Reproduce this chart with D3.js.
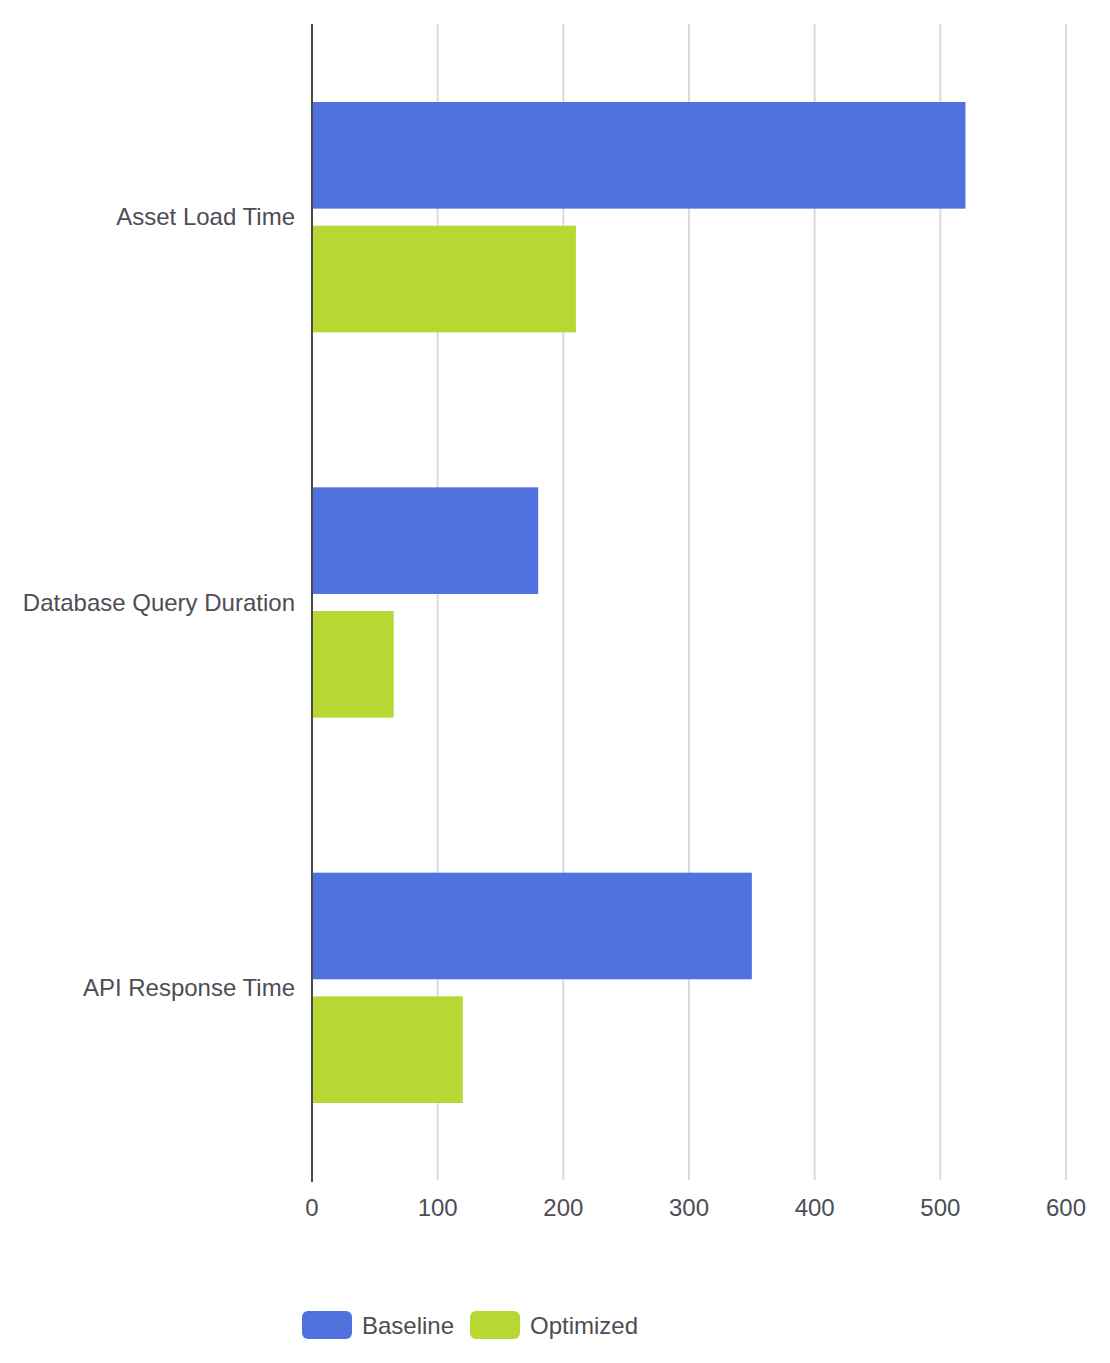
<!DOCTYPE html>
<html>
<head>
<meta charset="utf-8">
<script src="https://cdn.jsdelivr.net/npm/d3@7"></script>
<style>
  body { margin: 0; background: #fff; }
  text { font-family: "Liberation Sans", Arial, sans-serif; fill: #4d4d55; }
</style>
</head>
<body>
<div id="wrapper"></div>
<script>
// data
const categories = ["Asset Load Time", "Database Query Duration", "API Response Time"];
const seriesNames = ["Baseline", "Optimized"];
const baseline = [520, 180, 350];
const optimized = [210, 65, 120];
const xTicks = [0, 100, 200, 300, 400, 500, 600];
const colors = ["#4f72df", "#b7d733"];

const dimensions = {
  width: 1110,
  height: 1363,
  margin: { top: 24, right: 44, bottom: 183, left: 312 },
};
dimensions.boundedWidth = dimensions.width - dimensions.margin.left - dimensions.margin.right;
dimensions.boundedHeight = dimensions.height - dimensions.margin.top - dimensions.margin.bottom;

const wrapper = d3.select("#wrapper").append("svg")
  .attr("width", dimensions.width)
  .attr("height", dimensions.height);

const bounds = wrapper.append("g")
  .attr("transform", `translate(${dimensions.margin.left},${dimensions.margin.top})`);

// scales
const xScale = d3.scaleLinear().domain([0, 600]).range([0, dimensions.boundedWidth]);
const yScale = d3.scaleBand().domain(categories).range([0, dimensions.boundedHeight]);
const subScale = d3.scaleBand().domain(seriesNames)
  .range([78, yScale.bandwidth() - 77]).paddingInner(0.138);

// gridlines
bounds.selectAll(".grid").data(xTicks.slice(1)).enter().append("line")
  .attr("x1", d => xScale(d)).attr("x2", d => xScale(d))
  .attr("y1", 0).attr("y2", dimensions.boundedHeight)
  .attr("stroke", "#d9dbe0").attr("stroke-width", 2);

// bars
const rows = categories.map((c, i) => ({ cat: c, values: [baseline[i], optimized[i]] }));
const groups = bounds.selectAll(".row").data(rows).enter().append("g")
  .attr("transform", d => `translate(0,${yScale(d.cat)})`);
groups.selectAll("rect").data(d => d.values.map((v, j) => ({ key: seriesNames[j], v, j })))
  .enter().append("rect")
  .attr("x", xScale(0) - 1)
  .attr("y", d => subScale(d.key))
  .attr("width", d => xScale(d.v) - xScale(0) + 1)
  .attr("height", subScale.bandwidth())
  .attr("fill", d => colors[d.j]);

// y axis line
bounds.append("line")
  .attr("x1", 0).attr("x2", 0)
  .attr("y1", 0).attr("y2", dimensions.boundedHeight + 2)
  .attr("stroke", "#4a4a4a").attr("stroke-width", 2);

// category labels
bounds.selectAll(".cat").data(categories).enter().append("text")
  .attr("x", -17)
  .attr("y", d => yScale(d) + yScale.bandwidth() / 2)
  .attr("text-anchor", "end")
  .attr("dominant-baseline", "central")
  .style("font-size", "24px")
  .text(d => d);

// x tick labels
bounds.selectAll(".tick").data(xTicks).enter().append("text")
  .attr("x", d => xScale(d))
  .attr("y", dimensions.boundedHeight + 27)
  .attr("text-anchor", "middle")
  .attr("dominant-baseline", "central")
  .style("font-size", "24px")
  .text(d => d);

// legend
const legendX = [302, 470];
const legend = wrapper.selectAll(".legend").data(seriesNames).enter().append("g")
  .attr("transform", (d, i) => `translate(${legendX[i]},1311)`);
legend.append("rect")
  .attr("width", 50).attr("height", 28).attr("rx", 6)
  .attr("fill", (d, i) => colors[i]);
legend.append("text")
  .attr("x", 60).attr("y", 14)
  .attr("dominant-baseline", "central")
  .style("font-size", "24px")
  .text(d => d);
</script>
</body>
</html>
